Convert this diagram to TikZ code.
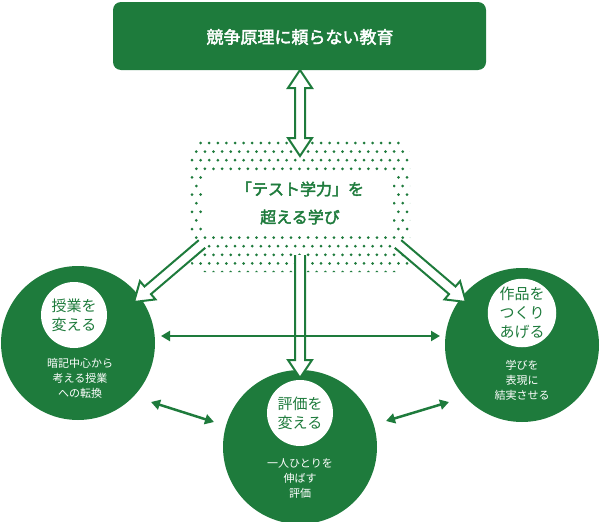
\documentclass[tikz,border=0pt]{standalone}
\usepackage{fontspec}
\newfontfamily\cjk[AutoFakeBold=2.5]{Noto Sans CJK JP}
\usetikzlibrary{calc,arrows.meta}
\definecolor{g}{HTML}{1E7B3C}
\newcommand\harrow[3]{% from #1 to #2, #3=1 for double-headed
 \path let \p1=($(#2)-(#1)$) in \pgfextra{\pgfmathsetmacro\ang{atan2(\y1,\x1)}\pgfmathsetmacro\len{veclen(\x1,\y1)}\xdef\gAng{\ang}\xdef\gLen{\len}};
 \ifnum#3=1
 \draw[g,line width=2pt,fill=white,line join=miter,shift={(#1)},rotate=\gAng] (0,0) -- (18,-12) -- (18,-5) -- (\gLen-18,-5) -- (\gLen-18,-12) -- (\gLen,0) -- (\gLen-18,12) -- (\gLen-18,5) -- (18,5) -- (18,12) -- cycle;
 \else
 \draw[g,line width=2pt,fill=white,line join=miter,shift={(#1)},rotate=\gAng] (0,-5) -- (\gLen-18,-5) -- (\gLen-18,-12) -- (\gLen,0) -- (\gLen-18,12) -- (\gLen-18,5) -- (0,5);
 \fi}
\tikzset{thin/.style={g,line width=2.5pt,{Triangle[length=9pt,width=10pt]}-{Triangle[length=9pt,width=10pt]}},
 big/.style={circle,fill=g,minimum size=154pt,inner sep=0pt},
 inner/.style={circle,fill=white,minimum size=66pt,inner sep=0pt,text=g,font=\cjk\fontsize{15}{19}\selectfont,align=center},
 sub/.style={text=white,font=\cjk\fontsize{11}{15}\selectfont,align=center}}
\begin{document}
\begin{tikzpicture}[x=1pt,y=-1pt]
\useasboundingbox (0,0) rectangle (600,522);
\node[g,fill=g,rounded corners=8pt,minimum width=373pt,minimum height=68pt] (top) at (299.5,36) {};
\node[text=white,font=\cjk\bfseries\fontsize{17}{20}\selectfont] (toptxt) at (300,37) {競争原理に頼らない教育};
% dotted box
\begin{scope}
\clip[rounded corners=14pt] (190,140) rectangle (410,272);
\foreach \r in {0,...,15}{\foreach \c in {0,...,25}{
 \fill[g] ({192+\c*8.6+mod(\r,2)*4.3},{143+\r*8.6}) circle (1.5pt);}}
\end{scope}
\node[fill=white,minimum width=190pt,minimum height=63pt,inner sep=0pt] (mid) at (298,202) {};
\node[text=g,font=\cjk\bfseries\fontsize{16}{28}\selectfont,align=center] (midtxt) at (300,203) {「テスト学力」を\\超える学び};
% circles
\node[big] (L) at (78,343) {};
\node[inner] (Li) at (74,315) {授業を\\変える};
\node[sub] at (80,378) {暗記中心から\\考える授業\\への転換};
\node[big] (R) at (522,345) {};
\node[inner] (Ri) at (522,313) {作品を\\つくり\\あげる};
\node[sub] at (522,380) {学びを\\表現に\\結実させる};
\node[big] (B) at (300,447) {};
\node[inner] (Bi) at (300,413) {評価を\\変える};
\node[sub] at (300,478) {一人ひとりを\\伸ばす\\評価};
% hollow arrows
\coordinate (a1) at (300,70); \coordinate (a2) at (300,156);
\harrow{a1}{a2}{1}
\coordinate (b1) at (202,244); \coordinate (b2) at (134,302);
\harrow{b1}{b2}{0}
\coordinate (c1) at (300,255); \coordinate (c2) at (300,378);
\harrow{c1}{c2}{0}
\coordinate (d1) at (398,244); \coordinate (d2) at (466,302);
\harrow{d1}{d2}{0}
% thin arrows
\coordinate (h1) at (161,336); \coordinate (h2) at (440,336);
\draw[thin] (h1) -- (h2);
\coordinate (l1) at (151,402); \coordinate (l2) at (214,422);
\draw[thin] (l1) -- (l2);
\coordinate (r1) at (386,421); \coordinate (r2) at (449,402);
\draw[thin] (r1) -- (r2);
\end{tikzpicture}
\end{document}
